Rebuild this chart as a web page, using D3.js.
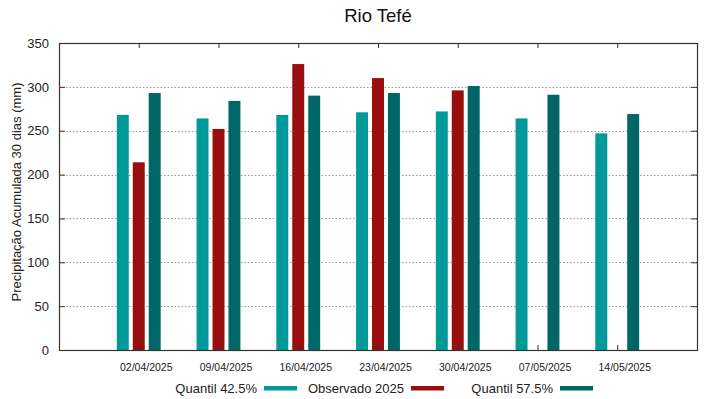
<!DOCTYPE html>
<html>
<head>
<meta charset="utf-8">
<script src="https://cdn.jsdelivr.net/npm/d3@7"></script>
<style>
  body { margin: 0; background: #fff; }
  svg { font-family: "Liberation Sans", Arial, sans-serif; }
</style>
</head>
<body>
<div id="chart"></div>
<script>
// Data
let dates = ["02/04/2025", "09/04/2025", "16/04/2025", "23/04/2025", "30/04/2025", "07/05/2025", "14/05/2025"];
let q425 = [268, 264, 268, 271, 272, 264, 247];
let obs2025 = [214, 252, 326, 310, 296, null, null];
let q575 = [293, 284, 290, 293, 301, 291, 269];
let yTicks = [0, 50, 100, 150, 200, 250, 300, 350];

let seriesNames = ["Quantil 42.5%", "Observado 2025", "Quantil 57.5%"];
let seriesColors = ["#009999", "#990e0e", "#006666"];
let seriesValues = [q425, obs2025, q575];

let W = 719, H = 399;
let margin = {top: 43, right: 22, bottom: 49, left: 59};
let width = W - margin.left - margin.right,
    height = H - margin.top - margin.bottom;

let svg = d3.select("#chart").append("svg")
    .attr("width", W)
    .attr("height", H);

let g = svg.append("g")
    .attr("transform", `translate(${margin.left},${margin.top})`);

// x: index positions, one empty unit on each side
let xScale = d3.scaleLinear()
    .domain([-1, dates.length])
    .range([0, width]);

let yScale = d3.scaleLinear()
    .domain([0, 350])
    .range([height, 0]);

let unit = xScale(1) - xScale(0);
let barW = unit * 0.15;
let step = unit * 0.2;

// grid lines
g.selectAll(".grid")
    .data(yTicks.slice(1, -1))
    .enter().append("line")
    .attr("x1", 0)
    .attr("x2", width)
    .attr("y1", d => Math.round(yScale(d)) + 0.5)
    .attr("y2", d => Math.round(yScale(d)) + 0.5)
    .style("stroke", "#999")
    .style("stroke-width", 1)
    .style("stroke-dasharray", "1.5,2");

// bars
seriesValues.forEach((vals, s) => {
    let data = vals.map((v, i) => ({i: i, v: v})).filter(d => d.v != null);
    g.selectAll(".bar" + s)
        .data(data)
        .enter().append("rect")
        .attr("class", "bar" + s)
        .attr("x", d => xScale(d.i) + (s - 1) * step - barW / 2)
        .attr("width", barW)
        .attr("y", d => yScale(d.v))
        .attr("height", d => height - yScale(d.v))
        .style("fill", seriesColors[s]);
});

// left axis
let yAxis = d3.axisLeft(yScale).tickValues(yTicks).tickSize(-6).tickPadding(10);
g.append("g")
    .call(yAxis)
    .call(a => a.select(".domain").remove())
    .selectAll("text")
    .style("font-size", "13px")
    .style("fill", "#222")
    .attr("font-family", null);

// right mirror ticks
g.append("g")
    .attr("transform", `translate(${width},0)`)
    .call(d3.axisRight(yScale).tickValues(yTicks).tickSize(-6).tickFormat(""))
    .call(a => a.select(".domain").remove());

// bottom axis
let xAxis = d3.axisBottom(xScale)
    .tickValues(d3.range(dates.length))
    .tickFormat(i => dates[i])
    .tickSize(-5)
    .tickPadding(14);
g.append("g")
    .attr("transform", `translate(0,${height})`)
    .call(xAxis)
    .call(a => a.select(".domain").remove())
    .selectAll("text")
    .attr("dx", 7)
    .style("font-size", "10.5px")
    .style("fill", "#222")
    .attr("font-family", null);

// top mirror ticks
g.append("g")
    .call(d3.axisTop(xScale).tickValues(d3.range(dates.length)).tickSize(-5).tickFormat(""))
    .call(a => a.select(".domain").remove());

g.selectAll(".tick line").style("stroke", "#333");

// frame
g.append("rect")
    .attr("x", 0.5)
    .attr("y", 0.5)
    .attr("width", width)
    .attr("height", height)
    .style("fill", "none")
    .style("stroke", "#333")
    .style("stroke-width", 1.2);

// title
svg.append("text")
    .attr("x", margin.left + width / 2)
    .attr("y", 22)
    .attr("text-anchor", "middle")
    .style("font-size", "18.5px")
    .style("fill", "#111")
    .text("Rio Tefé");

// y label
svg.append("text")
    .attr("transform", `translate(21,192) rotate(-90)`)
    .attr("text-anchor", "middle")
    .style("font-size", "13px")
    .style("fill", "#222")
    .text("Precipitação Acumulada 30 dias (mm)");

// legend
let legendTextEnd = [257, 404, 553];
let legend = svg.append("g").attr("class", "legend");
seriesNames.forEach((name, s) => {
    legend.append("text")
        .attr("x", legendTextEnd[s])
        .attr("y", 393)
        .attr("text-anchor", "end")
        .style("font-size", "13px")
        .style("fill", "#222")
        .text(name);
    legend.append("rect")
        .attr("x", legendTextEnd[s] + 7)
        .attr("y", 386)
        .attr("width", 33)
        .attr("height", 4.5)
        .style("fill", seriesColors[s]);
});
</script>
</body>
</html>
